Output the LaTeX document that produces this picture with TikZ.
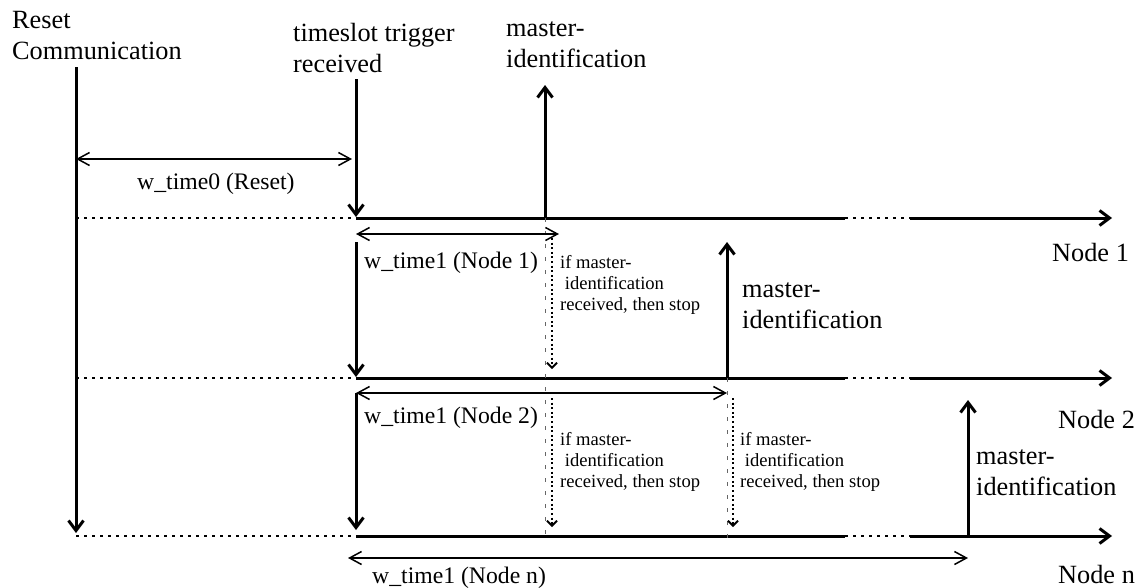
\documentclass[tikz,border=0pt]{standalone}
\usepackage{fontspec}
\setmainfont{Liberation Serif}
\usetikzlibrary{arrows.meta}
\begin{document}
\begin{tikzpicture}[x=1pt,y=-1pt,
  big/.style={font=\fontsize{26.3}{31}\selectfont, inner sep=0pt, align=left, anchor=base west},
  wlabel/.style={font=\fontsize{23.7}{29}\selectfont, inner sep=0pt, anchor=base west},
  small/.style={font=\fontsize{18.6}{21}\selectfont, inner sep=0pt, align=left, anchor=base west},
  timeline/.style={line width=3pt},
  bigtip/.style={-{Straight Barb[length=10pt,width=15pt]}},
  bigarrow/.style={line width=3pt, bigtip},
  span/.style={line width=1.5pt, {Straight Barb[length=12pt,width=13pt]}-{Straight Barb[length=12pt,width=13pt]}},
  gap/.style={line width=2.4pt, dash pattern=on 2.5pt off 5.5pt},
  stoparrow/.style={line width=2pt, dash pattern=on 2pt off 2.6pt, -{Straight Barb[length=5pt,width=10pt,line width=1.8pt]}},
  guide/.style={line width=1pt, black!60, dash pattern=on 4pt off 9pt},
]
\useasboundingbox (0,0) rectangle (1141,587);

% ---- labels on top
\node[big] (lreset) at (12,59) {Reset\\Communication};
\node[big] (ltrig) at (293,72) {timeslot trigger\\received};
\node[big] (lmaster1) at (506,67) {master-\\identification};
\node[wlabel] (lw0) at (137,189) {w\_time0 (Reset)};

% ---- reset and trigger verticals
\coordinate (r0) at (76,67); \coordinate (r1) at (76,533);
\draw[bigarrow] (r0) -- (r1);
\coordinate (t0) at (356,79); \coordinate (t1) at (356,217);
\draw[bigarrow] (t0) -- (t1);
\coordinate (w0a) at (76,159); \coordinate (w0b) at (352,159);
\draw[span] (w0a) -- (w0b);

% ---- three time lines
\foreach \y/\n in {218/a,378/b,536/c}{
  \coordinate (s\n) at (76,\y);
  \coordinate (p\n) at (356,\y);
  \coordinate (q\n) at (845,\y);
  \coordinate (u\n) at (910,\y);
  \coordinate (e\n) at (1112,\y);
  \draw[gap] (s\n) -- (p\n);
  \draw[timeline] (p\n) -- (q\n);
  \draw[gap] (q\n) -- (u\n);
  \draw[bigarrow] (u\n) -- (e\n);
}

% ---- guides
\coordinate (g1a) at (545,218); \coordinate (g1b) at (545,538);
\draw[guide] (g1a) -- (g1b);
\coordinate (g2a) at (727,378); \coordinate (g2b) at (727,538);
\draw[guide] (g2a) -- (g2b);

% ---- master identification arrows
\coordinate (m1a) at (545,218); \coordinate (m1b) at (545,85);
\draw[bigarrow] (m1a) -- (m1b);
\coordinate (m2a) at (727,378); \coordinate (m2b) at (727,242);
\draw[bigarrow] (m2a) -- (m2b);
\coordinate (m3a) at (968,536); \coordinate (m3b) at (968,400);
\draw[bigarrow] (m3a) -- (m3b);
\node[big] (lmaster2) at (742,328) {master-\\identification};
\node[big] (lmaster3) at (976,495) {master-\\identification};

% ---- node 1 row
\coordinate (n1a) at (356,234); \coordinate (n1b) at (559,234);
\draw[span] (n1a) -- (n1b);
\coordinate (v1a) at (356,242); \coordinate (v1b) at (356,377);
\draw[bigarrow] (v1a) -- (v1b);
\coordinate (d1a) at (552,238); \coordinate (d1b) at (552,369);
\draw[stoparrow] (d1a) -- (d1b);
\node[wlabel] (lw1) at (364,268) {w\_time1 (Node 1)};
\node[small] (stop1) at (560,310) {if master-\\\ identification\\received, then stop};
\node[big] (lnode1) at (1052,261) {Node 1};

% ---- node 2 row
\coordinate (n2a) at (356,393); \coordinate (n2b) at (727,393);
\draw[span] (n2a) -- (n2b);
\coordinate (v2a) at (356,393); \coordinate (v2b) at (356,530);
\draw[bigarrow] (v2a) -- (v2b);
\coordinate (d2a) at (552,398); \coordinate (d2b) at (552,527);
\draw[stoparrow] (d2a) -- (d2b);
\coordinate (d3a) at (733,398); \coordinate (d3b) at (733,527);
\draw[stoparrow] (d3a) -- (d3b);
\node[wlabel] (lw2) at (364,423) {w\_time1 (Node 2)};
\node[small] (stop2) at (560,487) {if master-\\\ identification\\received, then stop};
\node[small] (stop3) at (740,487) {if master-\\\ identification\\received, then stop};
\node[big] (lnode2) at (1058,428) {Node 2};

% ---- node n row
\coordinate (nna) at (348,558); \coordinate (nnb) at (968,558);
\draw[span] (nna) -- (nnb);
\node[wlabel] (lwn) at (372,583) {w\_time1 (Node n)};
\node[big] (lnoden) at (1058,583) {Node n};
\end{tikzpicture}
\end{document}
